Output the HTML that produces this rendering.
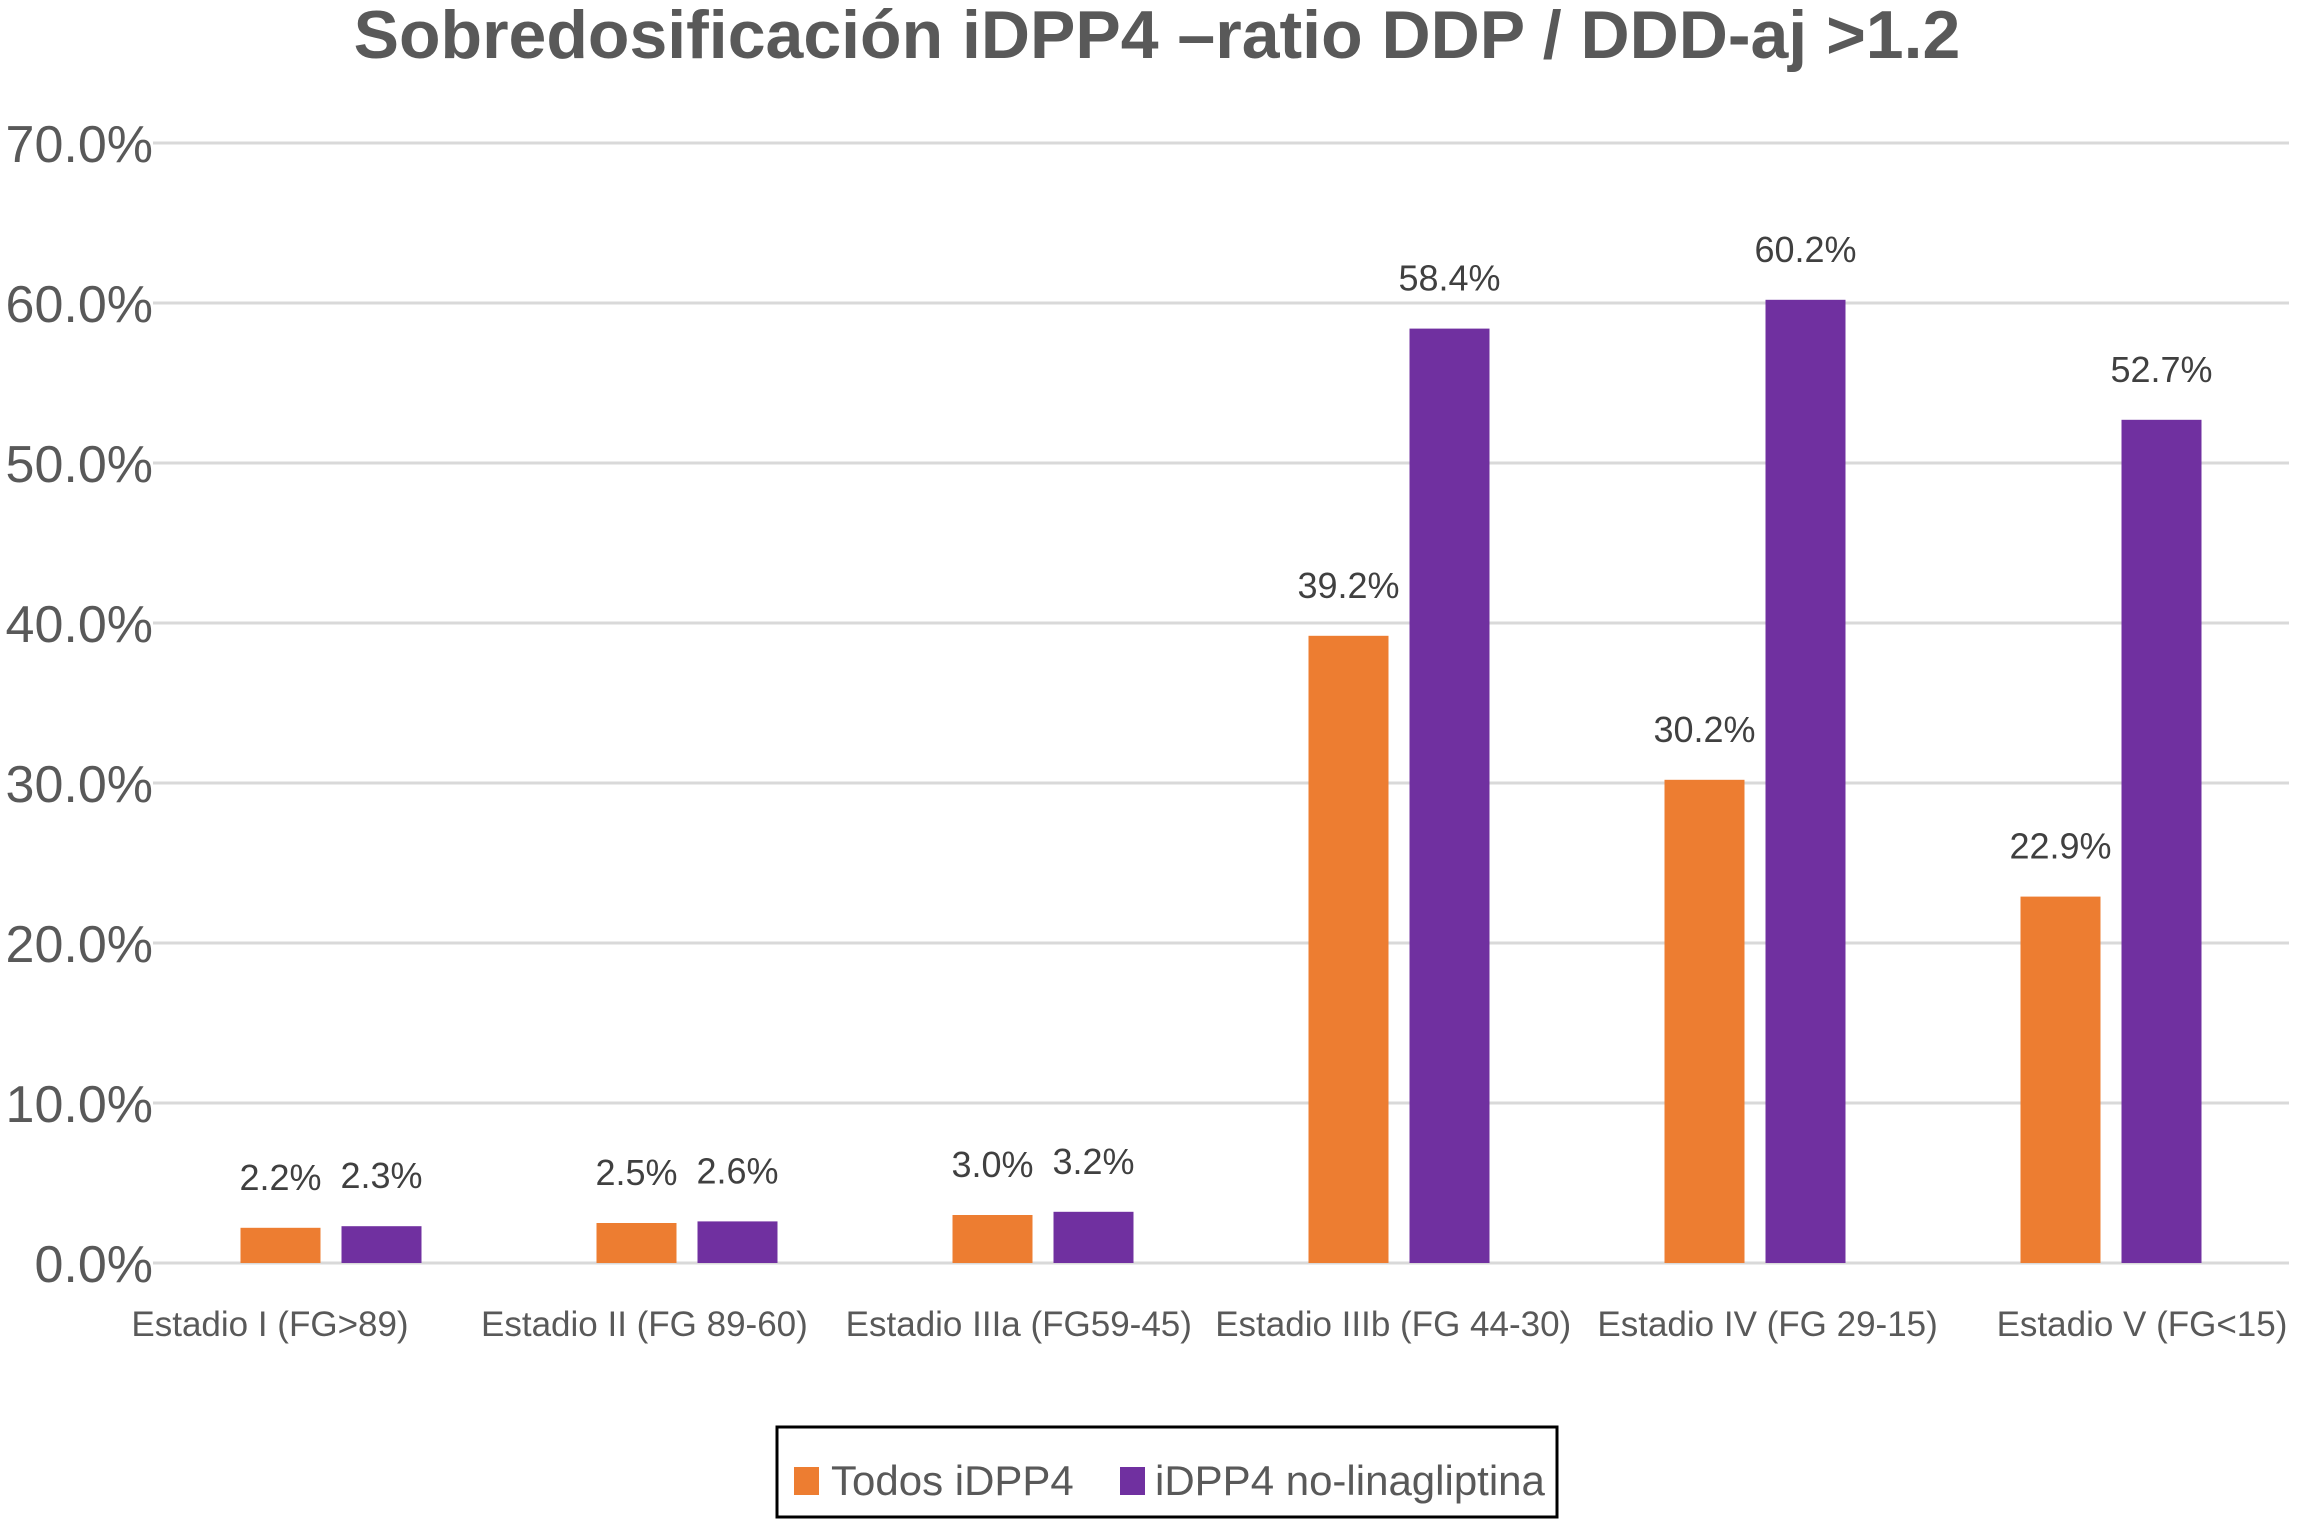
<!DOCTYPE html>
<html><head><meta charset="utf-8"><style>
html,body{margin:0;padding:0;background:#fff;}
svg{display:block;font-family:"Liberation Sans",Arial,sans-serif;}
</style></head><body>
<svg id="chart" width="2297" height="1521" viewBox="0 0 2297 1521" xmlns="http://www.w3.org/2000/svg">
<text x="1157" y="58" text-anchor="middle" font-size="68" font-weight="bold" fill="#595959">Sobredosificación iDPP4 –ratio DDP / DDD-aj &gt;1.2</text>
<g id="grid"></g><g id="bars"></g><g id="labels"></g>
<g>
<rect x="777" y="1427" width="780" height="90" fill="#fff" stroke="#000" stroke-width="3"/>
<rect x="794" y="1467" width="25" height="28" fill="#ED7D31"/>
<text x="831" y="1495" font-size="42" fill="#595959">Todos iDPP4</text>
<rect x="1120" y="1467" width="25" height="28" fill="#7030A0"/>
<text x="1155" y="1495" font-size="42" fill="#595959">iDPP4 no-linagliptina</text>
</g>
</svg>
<script>
const categories=["Estadio I (FG>89)","Estadio II (FG 89-60)","Estadio IIIa (FG59-45)","Estadio IIIb (FG 44-30)","Estadio IV (FG 29-15)","Estadio V (FG<15)"];
const todos=[2.2,2.5,3.0,39.2,30.2,22.9];
const noLina=[2.3,2.6,3.2,58.4,60.2,52.7];
const ticks=[0,10,20,30,40,50,60,70];
const tickLabels=["0.0%","10.0%","20.0%","30.0%","40.0%","50.0%","60.0%","70.0%"];
const NS="http://www.w3.org/2000/svg";
const L=153,R=2289,Y0=1263,PX=16.0;
const cw=(R-L)/categories.length,bw=80,gap=21;
const LAB0=270,LAB1=2142;
const y=v=>Y0-v*PX;
const xc=i=>L+cw*(i+0.5);
function mk(t,a,p,txt){const e=document.createElementNS(NS,t);for(const k in a)e.setAttribute(k,a[k]);if(txt!==undefined)e.textContent=txt;document.getElementById(p).appendChild(e);return e;}
ticks.forEach((t,i)=>{
 const g=mk('line',{x1:L,x2:R,y1:y(t),y2:y(t),stroke:'#d9d9d9','stroke-width':3},'grid');
 
 
 const tl=mk('text',{x:L,y:y(t)+19,'text-anchor':'end','font-size':52,fill:'#595959'},'grid',tickLabels[i]);
 
 
});
categories.forEach((c,i)=>{
 const cx=xc(i);
 [[todos[i],cx-gap/2-bw,'#ED7D31','todos'],[noLina[i],cx+gap/2,'#7030A0','no-linagliptina']].forEach(([v,x,col,s])=>{
  const b=mk('rect',{x:x,y:y(v),width:bw,height:v*PX,fill:col},'bars');
  
  
  const t=mk('text',{x:x+bw/2,y:y(v)-38,'text-anchor':'middle','font-size':36,fill:'#404040'},'labels',v.toFixed(1)+'%');
  
  
 });
 const lx=LAB0+(LAB1-LAB0)*i/(categories.length-1);
 const cl=mk('text',{x:lx,y:1336,'text-anchor':'middle','font-size':35,fill:'#595959'},'labels',c);
 
 
});
</script>
</body></html>
